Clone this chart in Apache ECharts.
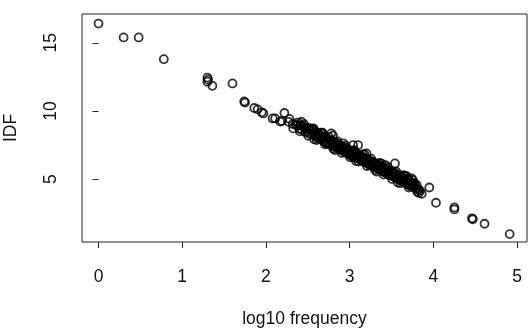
<!DOCTYPE html>
<html>
<head>
<meta charset="utf-8">
<script src="https://cdn.jsdelivr.net/npm/echarts@6/dist/echarts.min.js"></script>
<style>
  html, body { margin: 0; padding: 0; background: #fff; }
  #chart { width: 532px; height: 330px; }
</style>
</head>
<body>
<div id="chart"></div>
<script>
// [log10 frequency, IDF]
var headPoints = [
  [0.00, 16.42], [0.30, 15.40], [0.48, 15.40], [0.78, 13.80],
  [1.30, 12.45], [1.30, 12.15], [1.31, 12.30], [1.36, 11.85], [1.60, 12.02],
  [1.74, 10.70], [1.75, 10.62], [1.86, 10.22], [1.90, 10.12], [1.95, 9.90], [1.97, 9.82],
  [2.08, 9.45], [2.11, 9.45], [2.17, 9.22], [2.19, 9.26], [2.22, 9.85], [2.27, 9.20],
  [2.28, 9.42], [2.32, 9.05]
];

var bandPoints = [
  [2.36, 8.95], [2.38, 9.15], [2.40, 8.69], [2.41, 8.95], [2.43, 8.62], [2.44, 8.90],
  [2.46, 8.78], [2.47, 8.45], [2.49, 8.70], [2.50, 8.40], [2.51, 8.75], [2.53, 8.30],
  [2.54, 8.55], [2.56, 8.62], [2.57, 8.71], [2.58, 8.20], [2.59, 8.45], [2.61, 8.05],
  [2.62, 8.35], [2.63, 8.00], [2.64, 8.25], [2.66, 7.90], [2.67, 8.35], [2.68, 8.12],
  [2.69, 7.78], [2.70, 8.05], [2.71, 7.70], [2.72, 7.98], [2.73, 7.60], [2.74, 7.92],
  [2.75, 7.65], [2.76, 7.88], [2.77, 7.50], [2.78, 8.35], [2.79, 7.75], [2.80, 8.20],
  [2.80, 7.45], [2.81, 7.62], [2.82, 7.35], [2.83, 7.70], [2.84, 7.40], [2.85, 7.58],
  [2.86, 7.25], [2.87, 7.52], [2.88, 7.18], [2.89, 7.45], [2.90, 7.15], [2.91, 7.40],
  [2.92, 7.05], [2.93, 7.33], [2.94, 7.00], [2.95, 7.28], [2.96, 6.95], [2.97, 7.20],
  [2.98, 6.88], [2.99, 7.15], [3.00, 6.80], [3.00, 7.05], [3.01, 6.92], [3.02, 6.70],
  [3.03, 7.02], [3.04, 7.49], [3.04, 6.65], [3.05, 6.95], [3.06, 6.60], [3.07, 6.88],
  [3.08, 6.55], [3.09, 6.82], [3.10, 7.49], [3.10, 6.50], [3.11, 6.75], [3.12, 6.45],
  [3.13, 6.70], [3.14, 6.38], [3.15, 6.62], [3.16, 6.30], [3.17, 6.58], [3.18, 6.25],
  [3.19, 6.50], [3.20, 6.88], [3.20, 6.20], [3.21, 6.45], [3.22, 6.12], [3.23, 6.38],
  [3.24, 6.05], [3.25, 6.32], [3.26, 6.00], [3.27, 6.25], [3.28, 5.92], [3.29, 6.18],
  [3.30, 5.88], [3.31, 6.12], [3.32, 5.80], [3.33, 6.05], [3.34, 5.75], [3.35, 6.00],
  [3.36, 5.68], [3.37, 5.95], [3.38, 6.14], [3.38, 5.62], [3.39, 5.88], [3.40, 5.55],
  [3.41, 5.80], [3.42, 5.48], [3.43, 5.75], [3.44, 5.42], [3.45, 5.68], [3.46, 5.38],
  [3.47, 5.62], [3.48, 5.30], [3.49, 5.55], [3.50, 5.25], [3.51, 5.50], [3.52, 5.20],
  [3.53, 5.45], [3.54, 6.15], [3.54, 5.12], [3.55, 5.38], [3.56, 5.05], [3.57, 5.30],
  [3.58, 4.98], [3.59, 5.25], [3.60, 4.92], [3.61, 5.20], [3.62, 4.85], [3.63, 5.12],
  [3.64, 5.29], [3.64, 4.80], [3.65, 5.05], [3.66, 4.72], [3.67, 4.98], [3.68, 4.65],
  [3.69, 4.92], [3.70, 5.05], [3.70, 4.60], [3.71, 4.85], [3.72, 4.55], [3.73, 4.78],
  [3.74, 5.05], [3.74, 4.50], [3.75, 4.70], [3.76, 4.42], [3.77, 4.62], [3.78, 4.35],
  [3.80, 4.56], [3.80, 4.30], [3.82, 4.25], [3.84, 4.15], [3.86, 3.92],
  [2.405, 8.50], [2.455, 9.03], [2.505, 8.18], [2.555, 8.72], [2.605, 7.86], [2.655, 8.40],
  [2.705, 7.55], [2.755, 8.08], [2.805, 7.23], [2.855, 7.77], [2.905, 6.92], [2.955, 7.45],
  [3.005, 6.60], [3.055, 7.13], [3.105, 6.28], [3.155, 6.82], [3.205, 5.96], [3.255, 6.50],
  [3.305, 5.65], [3.355, 6.18], [3.405, 5.33], [3.455, 5.87], [3.505, 5.01], [3.555, 5.55],
  [3.605, 4.70], [3.655, 5.23], [3.705, 4.38], [3.755, 4.92], [3.805, 4.08],
  [2.325, 8.72], [2.375, 8.98], [2.425, 9.20], [2.475, 8.45], [2.525, 8.62], [2.575, 7.92],
  [2.625, 8.18], [2.675, 8.40], [2.725, 7.66], [2.775, 7.85], [2.825, 7.12], [2.875, 7.39],
  [2.925, 7.62], [2.975, 6.87], [3.025, 7.06], [3.075, 6.33], [3.125, 6.59], [3.175, 6.83],
  [3.225, 6.08], [3.275, 6.27], [3.325, 5.54], [3.375, 5.80], [3.425, 6.03], [3.475, 5.28],
  [3.525, 5.48], [3.575, 4.75], [3.625, 5.01], [3.675, 5.24], [3.725, 4.49], [3.775, 4.68],
  [3.825, 3.98]
];

var tailPoints = [
  [3.95, 4.38], [4.03, 3.26], [4.25, 2.92], [4.25, 2.78],
  [4.46, 2.12], [4.47, 2.05], [4.61, 1.72], [4.91, 0.96]
];

var xTicks = [0, 1, 2, 3, 4, 5];
var yTicks = [5, 10, 15];

var font = "'Liberation Sans', Arial, Helvetica, sans-serif";
var ink = '#111';

var myChart = echarts.init(document.getElementById('chart'), null, { renderer: 'canvas' });

var option = {
  backgroundColor: '#fff',
  animation: false,
  grid: {
    left: 82, top: 14, width: 445, height: 228,
    containLabel: false,
    outerBoundsMode: 'none',
    show: true, borderColor: '#222', borderWidth: 1
  },
  xAxis: {
    type: 'value',
    min: -0.197, max: 5.117,
    axisLine: { show: false },
    splitLine: { show: false },
    axisTick: { show: true, length: 6, customValues: xTicks, lineStyle: { color: '#222' } },
    axisLabel: { customValues: xTicks, margin: 26, fontSize: 17.5, color: ink, fontFamily: font },
    name: 'log10 frequency',
    nameLocation: 'middle',
    nameGap: 68,
    nameTextStyle: { fontSize: 17.5, color: ink, fontFamily: font }
  },
  yAxis: {
    type: 'value',
    min: 0.38, max: 17.12,
    axisLine: { show: false },
    splitLine: { show: false },
    axisTick: { show: true, length: 6, customValues: yTicks, lineStyle: { color: '#222' } },
    axisLabel: { customValues: yTicks, rotate: 90, margin: 22, fontSize: 17.5, color: ink, fontFamily: font },
    name: 'IDF',
    nameLocation: 'middle',
    nameRotate: 90,
    nameGap: 62,
    nameTextStyle: { fontSize: 17.5, color: ink, fontFamily: font }
  },
  series: [
    {
      type: 'scatter',
      symbol: 'circle',
      symbolSize: 8,
      itemStyle: { color: 'rgba(0,0,0,0)', borderColor: '#000', borderWidth: 1.8 },
      data: headPoints.concat(bandPoints, tailPoints)
    }
  ]
};

myChart.setOption(option);
</script>
</body>
</html>
